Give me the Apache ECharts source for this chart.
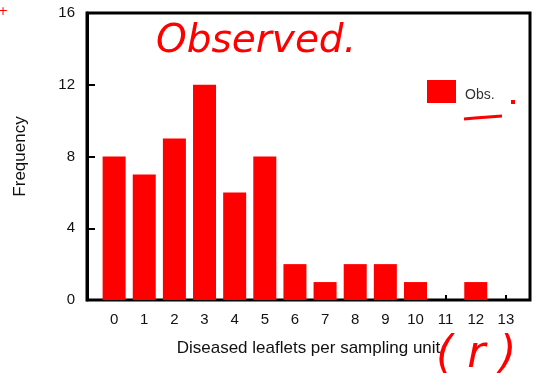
<!DOCTYPE html>
<html>
<head>
<meta charset="utf-8">
<script src="https://cdn.jsdelivr.net/npm/echarts@6/dist/echarts.min.js"></script>
<style>
html, body { margin: 0; padding: 0; background: #fff; }
#main { width: 539px; height: 391px; }
</style>
</head>
<body>
<div id="main"></div>
<script>
// 数据
var categories = [0, 1, 2, 3, 4, 5, 6, 7, 8, 9, 10, 11, 12, 13];
var observed = [8, 7, 9, 12, 6, 8, 2, 1, 2, 2, 1, 0, 1, 0];
var yTicks = [0, 4, 8, 12, 16];

var barData = [];
for (var i = 0; i < categories.length; i++) {
	barData.push([categories[i], observed[i]]);
}

var myChart = echarts.init(document.getElementById('main'));

var nameFont = {
	fontFamily: 'Liberation Sans',
	fontSize: 17,
	color: '#111'
};

var option = {
	animation: false,
	backgroundColor: '#fff',
	grid: {
		left: 87,
		right: 9,
		top: 13,
		bottom: 91,
		show: true,
		borderColor: '#000',
		borderWidth: 3
	},
	legend: {
		data: ['Obs.'],
		left: 427,
		top: 80,
		padding: 0,
		itemWidth: 29,
		itemHeight: 23,
		icon: 'rect',
		formatter: function (name) {
			return '{a|' + name + '}';
		},
		textStyle: {
			rich: {
				a: {
					fontFamily: 'Liberation Sans',
					fontSize: 14,
					color: '#333',
					padding: [8, 0, 0, 4]
				}
			}
		}
	},
	xAxis: {
		type: 'value',
		min: -0.9,
		max: 13.8,
		name: 'Diseased leaflets per sampling unit',
		nameLocation: 'middle',
		nameGap: 40,
		nameTextStyle: nameFont,
		splitLine: { show: false },
		axisLine: { onZero: false, lineStyle: { color: '#000', width: 2 } },
		axisTick: {
			inside: true,
			length: 5,
			customValues: categories,
			lineStyle: { color: '#000', width: 2 }
		},
		axisLabel: {
			customValues: categories,
			margin: 12,
			fontFamily: 'Liberation Sans',
			fontSize: 15,
			color: '#111'
		}
	},
	yAxis: {
		type: 'value',
		min: 0,
		max: 16,
		interval: 4,
		name: 'Frequency',
		nameLocation: 'middle',
		nameGap: 58,
		nameTextStyle: nameFont,
		splitLine: { show: false },
		axisLine: { show: true, onZero: false, lineStyle: { color: '#000', width: 3 } },
		axisTick: {
			show: true,
			inside: true,
			length: 8,
			lineStyle: { color: '#000', width: 2 }
		},
		axisLabel: {
			margin: 12,
			fontFamily: 'Liberation Sans',
			fontSize: 15,
			color: '#111',
			formatter: function (v) {
				return yTicks.indexOf(v) >= 0 ? String(v) : '';
			}
		}
	},
	series: [{
		name: 'Obs.',
		type: 'bar',
		barWidth: 23,
		itemStyle: { color: '#ff0000' },
		data: barData
	}],
	// 手写批注
	graphic: [
		{
			type: 'text',
			left: 156,
			top: 22,
			style: {
				text: 'Observed.',
				fontFamily: 'DejaVu Sans',
				fontStyle: 'italic',
				fontSize: 39,
				fill: '#ff0000'
			}
		},
		{
			type: 'text',
			left: 436,
			top: 334,
			style: {
				text: '( r )',
				fontFamily: 'DejaVu Sans',
				fontStyle: 'italic',
				fontSize: 44,
				fill: '#ff0000'
			}
		},
		{
			type: 'polyline',
			shape: { points: [[464, 119], [475, 118], [502, 116]] },
			style: { stroke: '#ff0000', lineWidth: 3, fill: null }
		},
		{
			type: 'rect',
			shape: { x: 511, y: 100, width: 4, height: 4 },
			style: { fill: '#ff0000' }
		},
		{
			type: 'text',
			left: -2,
			top: 6,
			style: {
				text: '+',
				fontFamily: 'DejaVu Sans',
				fontSize: 12,
				fill: '#ff0000'
			}
		}
	]
};

myChart.setOption(option);
</script>
</body>
</html>
